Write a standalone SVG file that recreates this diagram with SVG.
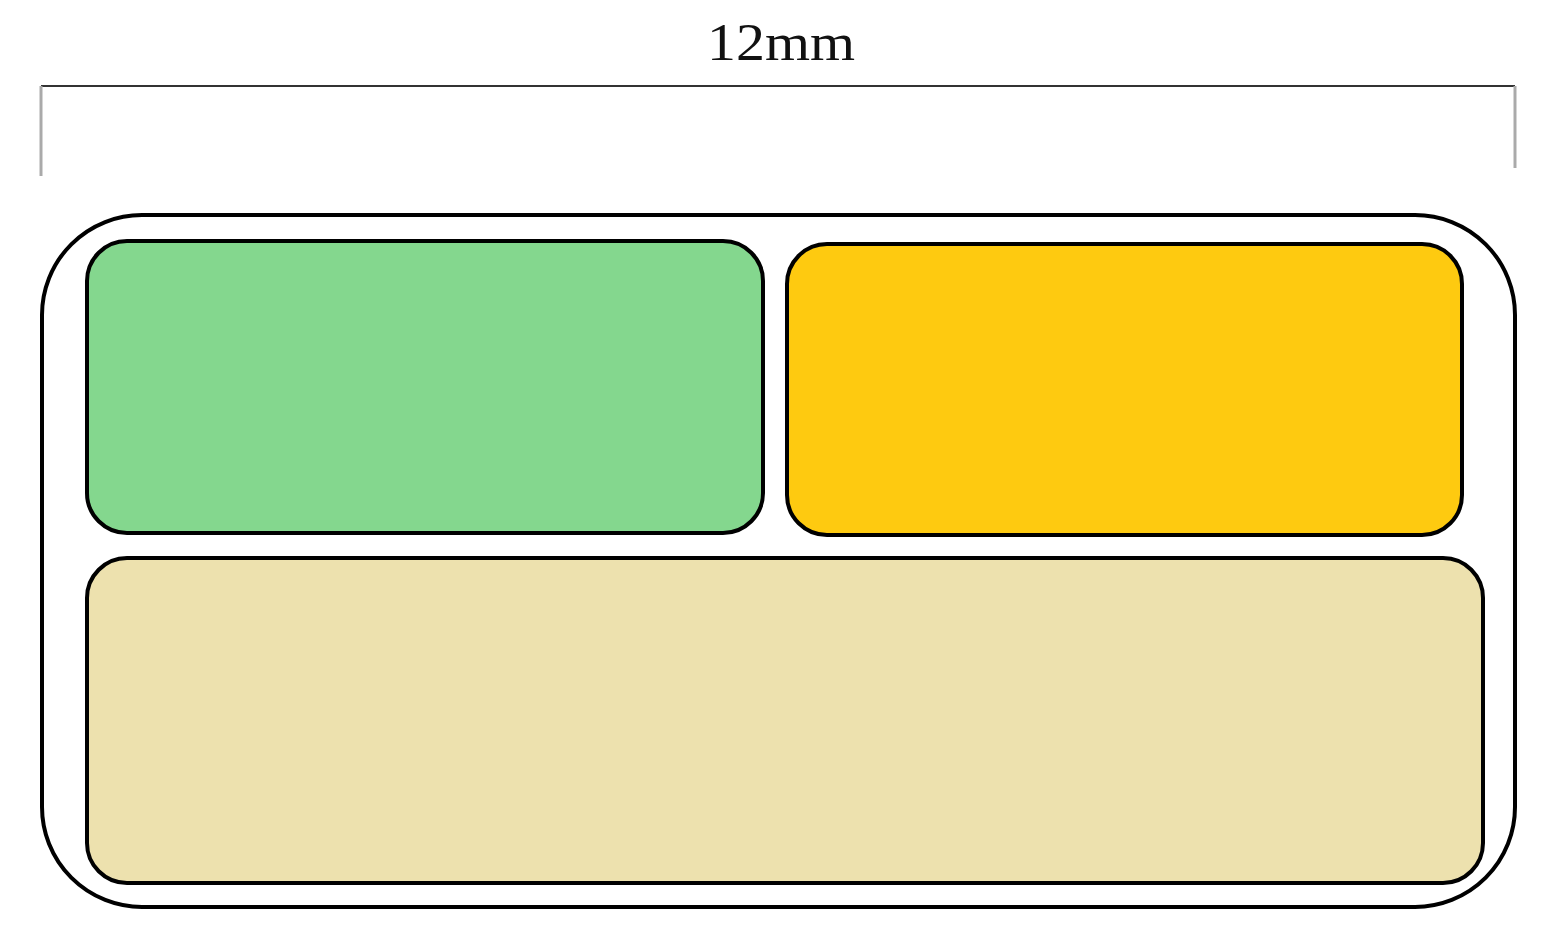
<svg xmlns="http://www.w3.org/2000/svg" width="1557" height="940" viewBox="0 0 1557 940">
<style>
.box{stroke:#000;stroke-width:4}
.tick{stroke:#aaa;stroke-width:3;fill:none}
.lbl{font-family:"Liberation Serif",serif;font-size:52px;fill:#111}
</style>
<rect width="1557" height="940" fill="#fff"/>
<g id="dimension">
<line x1="41" y1="86" x2="1515" y2="86" stroke="#333" stroke-width="2"/>
<line class="tick" x1="41" y1="86" x2="41" y2="176"/>
<line class="tick" x1="1515" y1="86" x2="1515" y2="168"/>
<text class="lbl" x="781" y="60" text-anchor="middle" textLength="148" lengthAdjust="spacingAndGlyphs">12mm</text>
</g>
<g id="outer">
<rect class="box" x="42" y="215" width="1473" height="692" rx="100" ry="100" fill="#fff"/>
</g>
<g id="green">
<rect class="box" x="87" y="241" width="676" height="292" rx="40" ry="40" fill="#84D78E"/>
</g>
<g id="yellow">
<rect class="box" x="787" y="244" width="675" height="291" rx="40" ry="40" fill="#FECA10"/>
</g>
<g id="tan">
<rect class="box" x="87" y="558" width="1396" height="325" rx="40" ry="40" fill="#EDE1AE"/>
</g>
<g id="connectors"></g>
</svg>
